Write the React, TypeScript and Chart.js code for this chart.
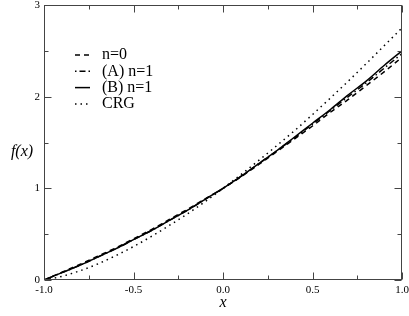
import React, { useEffect, useRef } from 'react';
import { Chart, registerables } from 'chart.js';

Chart.register(...registerables);

const xValues = [-1.0, -0.9, -0.8, -0.7, -0.6, -0.5, -0.4, -0.3, -0.2, -0.1, 0.0, 0.1, 0.2, 0.3, 0.4, 0.5, 0.6, 0.7, 0.8, 0.9, 1.0];
const n0Values = [0.0, 0.085, 0.17, 0.26, 0.35, 0.45, 0.55, 0.66, 0.77, 0.885, 1.0, 1.125, 1.26, 1.4, 1.54, 1.68, 1.83, 1.97, 2.12, 2.27, 2.43];
const aValues = [0.0, 0.08, 0.16, 0.25, 0.34, 0.44, 0.54, 0.65, 0.76, 0.88, 1.0, 1.13, 1.27, 1.41, 1.55, 1.7, 1.85, 2.0, 2.15, 2.31, 2.47];
const bValues = [0.0, 0.08, 0.16, 0.25, 0.34, 0.44, 0.54, 0.65, 0.76, 0.88, 1.0, 1.13, 1.27, 1.41, 1.56, 1.71, 1.86, 2.02, 2.17, 2.34, 2.5];
const crgValues = [0.0, 0.04, 0.1, 0.175, 0.265, 0.365, 0.475, 0.595, 0.72, 0.855, 1.0, 1.15, 1.305, 1.465, 1.63, 1.805, 1.985, 2.17, 2.36, 2.555, 2.75];

const seriesLabels = ['n=0', '(A) n=1', '(B) n=1', 'CRG'];
const xMajorTicks = [-1, -0.5, 0, 0.5, 1];
const xMinorTicks = [-0.75, -0.25, 0.25, 0.75];
const yMajorTicks = [0, 1, 2, 3];
const yMinorTicks = [0.5, 1.5, 2.5];
const xAxisTitle = 'x';
const yAxisTitle = 'f(x)';

const SERIF = '"Liberation Serif", "Times New Roman", serif';
const dashes: number[][] = [[5, 4], [1.5, 3, 6, 3], [], [1.5, 4]];

const framePlugin = {
  id: 'frameTicksLegend',
  afterDatasetsDraw(chart: any) {
    const { ctx, chartArea } = chart;
    const { left, right, top, bottom } = chartArea;
    const xs = chart.scales.x;
    const ys = chart.scales.y;
    ctx.save();
    ctx.strokeStyle = '#444';
    ctx.lineWidth = 1;
    ctx.setLineDash([]);
    const L = Math.round(left) + 0.5;
    const R = Math.round(right) - 0.5;
    const T = Math.round(top) + 0.5;
    const B = Math.round(bottom) - 0.5;
    ctx.strokeRect(L, T, R - L, B - T);
    const drawX = (v: number, len: number) => {
      const p = Math.round(xs.getPixelForValue(v)) + 0.5;
      ctx.beginPath();
      ctx.moveTo(p, B); ctx.lineTo(p, B - len);
      ctx.moveTo(p, T); ctx.lineTo(p, T + len);
      ctx.stroke();
    };
    const drawY = (v: number, len: number) => {
      const p = Math.round(ys.getPixelForValue(v)) + 0.5;
      ctx.beginPath();
      ctx.moveTo(L, p); ctx.lineTo(L + len, p);
      ctx.moveTo(R, p); ctx.lineTo(R - len, p);
      ctx.stroke();
    };
    xMajorTicks.forEach((v) => drawX(v, 7));
    xMinorTicks.forEach((v) => drawX(v, 4));
    yMajorTicks.forEach((v) => drawY(v, 7));
    yMinorTicks.forEach((v) => drawY(v, 4));

    // legend
    const lx = left + 31;
    const tx = left + 58;
    chart.data.datasets.forEach((ds: any, i: number) => {
      const ry = top + 50 + i * 16.3;
      ctx.strokeStyle = '#000';
      ctx.lineWidth = 1.5;
      ctx.setLineDash(ds.borderDash || []);
      ctx.beginPath();
      ctx.moveTo(lx, ry);
      ctx.lineTo(lx + 15, ry);
      ctx.stroke();
      ctx.setLineDash([]);
      ctx.fillStyle = '#000';
      ctx.font = '16px ' + SERIF;
      ctx.textBaseline = 'middle';
      ctx.textAlign = 'left';
      ctx.fillText(ds.label, tx, ry);
    });

    // axis titles
    ctx.font = 'italic 16px ' + SERIF;
    ctx.textAlign = 'center';
    ctx.textBaseline = 'middle';
    ctx.fillText(yAxisTitle, 22, top + 147);
    ctx.fillText(xAxisTitle, (left + right) / 2, 303);
    ctx.restore();
  },
};

export default function App() {
  const ref = useRef<HTMLCanvasElement | null>(null);
  useEffect(() => {
    if (!ref.current) return;
    const all = [n0Values, aValues, bValues, crgValues];
    const chart = new Chart(ref.current, {
      type: 'scatter',
      data: {
        datasets: all.map((vals, i) => ({
          label: seriesLabels[i],
          data: xValues.map((x, j) => ({ x, y: vals[j] })),
          showLine: true,
          borderColor: '#000',
          backgroundColor: '#000',
          borderWidth: 1.5,
          borderDash: dashes[i],
          pointRadius: 0,
          cubicInterpolationMode: 'monotone' as const,
          fill: false,
        })),
      },
      options: {
        responsive: false,
        animation: false,
        events: [],
        layout: { padding: { left: 0, right: 7, top: 5, bottom: 0 } },
        plugins: { legend: { display: false }, tooltip: { enabled: false } },
        scales: {
          x: {
            type: 'linear',
            min: -1,
            max: 1,
            grid: { display: false, drawTicks: false },
            border: { display: false },
            afterBuildTicks: (scale: any) => {
              scale.ticks = xMajorTicks.map((v) => ({ value: v }));
            },
            afterFit: (scale: any) => {
              scale.height = 36;
              scale.paddingLeft = 0;
              scale.paddingRight = 0;
            },
            ticks: {
              color: '#000',
              padding: 4,
              maxRotation: 0,
              font: { family: SERIF, size: 11 },
              callback: (v: any) => Number(v).toFixed(1),
            },
          },
          y: {
            type: 'linear',
            min: 0,
            max: 3,
            grid: { display: false, drawTicks: false },
            border: { display: false },
            afterBuildTicks: (scale: any) => {
              scale.ticks = yMajorTicks.map((v) => ({ value: v }));
            },
            afterFit: (scale: any) => {
              scale.width = 44;
              scale.paddingTop = 0;
              scale.paddingBottom = 0;
            },
            ticks: {
              color: '#000',
              padding: 4,
              font: { family: SERIF, size: 11 },
              callback: (v: any) => String(v),
            },
          },
        },
      },
      plugins: [framePlugin],
    });
    return () => chart.destroy();
  }, []);
  return (
    <div style={{ position: 'fixed', left: 0, top: 0, width: 409, height: 316, background: '#fff' }}>
      <canvas ref={ref} width={409} height={316} style={{ display: 'block' }} />
    </div>
  );
}
